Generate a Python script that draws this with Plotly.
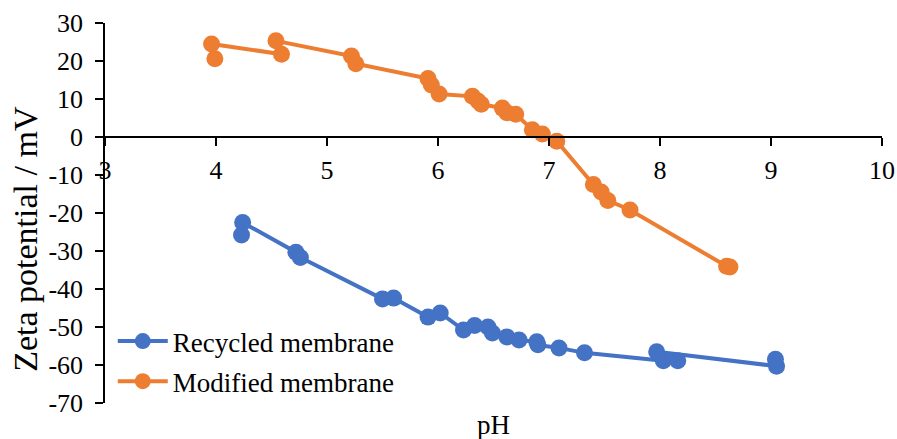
import plotly.graph_objects as go

recycled_ph = [4.23, 4.24, 4.72, 4.76, 5.50, 5.60, 5.91, 6.02, 6.23, 6.33, 6.45, 6.49,
               6.62, 6.73, 6.89, 6.90, 7.09, 7.32, 8.03, 8.16, 7.97, 9.05, 9.04]
recycled_zeta = [-25.8, -22.5, -30.3, -31.7, -42.6, -42.4, -47.4, -46.3, -50.8, -49.6, -50.0, -51.6,
                 -52.6, -53.4, -53.9, -54.7, -55.5, -56.8, -58.9, -58.9, -56.5, -60.3, -58.5]

modified_ph = [3.99, 3.96, 4.59, 4.54, 5.22, 5.26, 5.91, 5.94, 6.01, 6.31, 6.36, 6.39,
               6.58, 6.62, 6.70, 6.85, 6.94, 7.07, 7.40, 7.47, 7.53, 7.73, 8.60, 8.63]
modified_zeta = [20.6, 24.5, 21.8, 25.3, 21.3, 19.3, 15.4, 13.7, 11.3, 10.7, 9.5, 8.6,
                 7.6, 6.4, 6.0, 1.9, 0.8, -1.1, -12.5, -14.5, -16.7, -19.2, -34.0, -34.2]

x_ticks = [3, 4, 5, 6, 7, 8, 9, 10]
y_ticks = [30, 20, 10, 0, -10, -20, -30, -40, -50, -60, -70]

BLUE = "#4472C4"
ORANGE = "#ED7D31"
FONT = "Liberation Serif, Times New Roman, serif"

fig = go.Figure()
fig.add_trace(go.Scatter(x=recycled_ph, y=recycled_zeta, mode="lines+markers",
                         name="Recycled membrane", legendgroup="a",
                         line=dict(color=BLUE, width=4),
                         marker=dict(color=BLUE, size=17)))
fig.add_trace(go.Scatter(x=modified_ph, y=modified_zeta, mode="lines+markers",
                         name="Modified membrane", legendgroup="b",
                         line=dict(color=ORANGE, width=4),
                         marker=dict(color=ORANGE, size=17)))

fig.update_layout(
    width=897, height=439,
    margin=dict(l=105, r=15, t=23, b=36, autoexpand=False),
    paper_bgcolor="white", plot_bgcolor="white",
    font=dict(family=FONT, size=26, color="black"),
    showlegend=True,
    legend=dict(x=0.010, y=-0.008, xanchor="left", yanchor="bottom",
                bgcolor="rgba(0,0,0,0)", font=dict(size=27, family=FONT),
                itemwidth=50, traceorder="grouped", tracegroupgap=2),
    xaxis=dict(range=[3, 10], tickvals=x_ticks, ticktext=[str(v) for v in x_ticks],
               showgrid=False, zeroline=False, showline=True, linecolor="black", linewidth=1.5,
               ticks="outside", ticklen=8, tickwidth=1.5, tickcolor="black",
               ticklabelstandoff=2,
               anchor="free", position=0.7, automargin=False,
               tickfont=dict(size=26, family=FONT)),
    yaxis=dict(range=[-70, 30], tickvals=y_ticks, ticktext=[str(v) for v in y_ticks],
               showgrid=False, zeroline=False, showline=True, linecolor="black", linewidth=1.5,
               ticks="outside", ticklen=8, tickwidth=1.5, tickcolor="black",
               ticklabelstandoff=7,
               automargin=False, tickfont=dict(size=26, family=FONT)),
    annotations=[
        dict(text="pH", x=0.5, y=-0.058, xref="paper", yref="paper",
             xanchor="center", yanchor="middle", showarrow=False,
             font=dict(size=27, family=FONT)),
        dict(text="Zeta potential / mV", x=-0.1017, y=0.432, xref="paper", yref="paper",
             xanchor="center", yanchor="middle", showarrow=False, textangle=-90,
             font=dict(size=34, family=FONT)),
    ],
)

fig.write_html("out.html", config={"displayModeBar": False},
               post_script="document.body.style.margin='0';")
